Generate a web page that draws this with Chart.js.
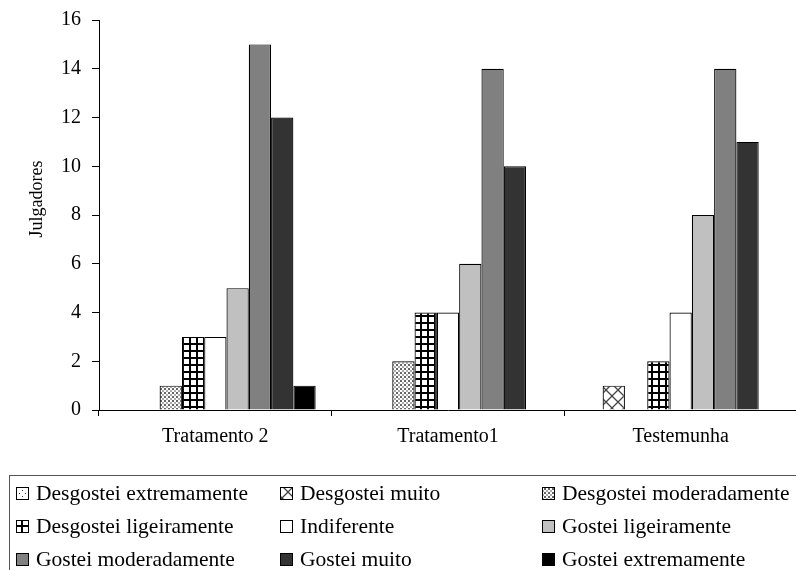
<!DOCTYPE html>
<html>
<head>
<meta charset="utf-8">
<script src="https://cdn.jsdelivr.net/npm/chart.js@4"></script>
<style>
  html, body { margin: 0; padding: 0; background: #fff; overflow: hidden; }
  #wrap { width: 800px; height: 570px; }
</style>
</head>
<body>
<div id="wrap"><canvas id="chart" width="800" height="570"></canvas></div>
<script>
const CATEGORIES = ['Tratamento 2', 'Tratamento1', 'Testemunha'];

const SERIES_NAMES = [
  'Desgostei extremamente', 'Desgostei muito', 'Desgostei moderadamente',
  'Desgostei ligeiramente', 'Indiferente', 'Gostei ligeiramente',
  'Gostei moderadamente', 'Gostei muito', 'Gostei extremamente',
];

const DESGOSTEI_EXTREMAMENTE  = [0, 0, 0];
const DESGOSTEI_MUITO         = [0, 0, 1];
const DESGOSTEI_MODERADAMENTE = [1, 2, 0];
const DESGOSTEI_LIGEIRAMENTE  = [3, 4, 2];
const INDIFERENTE             = [3, 4, 4];
const GOSTEI_LIGEIRAMENTE     = [5, 6, 8];
const GOSTEI_MODERADAMENTE    = [15, 14, 14];
const GOSTEI_MUITO            = [12, 10, 11];
const GOSTEI_EXTREMAMENTE     = [1, 0, 0];

const Y_TICKS = [0, 2, 4, 6, 8, 10, 12, 14, 16];
const Y_TITLE = 'Julgadores';

const SERIF = '"Liberation Serif", "Times New Roman", serif';

// small tiles turned into canvas patterns
function makePattern(size, draw) {
  const c = document.createElement('canvas');
  c.width = size; c.height = size;
  const g = c.getContext('2d');
  g.fillStyle = '#fff';
  g.fillRect(0, 0, size, size);
  draw(g);
  return g.createPattern(c, 'repeat');
}

const ctx = document.getElementById('chart').getContext('2d');

const sparseDots = makePattern(6, g => {
  g.fillStyle = '#333';
  g.fillRect(1, 1, 1, 1);
  g.fillRect(4, 4, 1, 1);
});
const crossHatch = makePattern(12, g => {
  g.strokeStyle = '#444';
  g.lineWidth = 1.3;
  g.beginPath();
  g.moveTo(0, 0); g.lineTo(12, 12);
  g.moveTo(12, 0); g.lineTo(0, 12);
  g.stroke();
});
const denseDots = makePattern(4, g => {
  g.fillStyle = '#666';
  g.fillRect(0, 0, 2, 2);
  g.fillStyle = '#aaa';
  g.fillRect(2, 2, 2, 2);
});
const gridLines = makePattern(7, g => {
  g.fillStyle = '#000';
  g.fillRect(0, 0, 7, 2);
  g.fillRect(0, 0, 2, 7);
});

const FILLS = [sparseDots, crossHatch, denseDots, gridLines,
  '#ffffff', '#c0c0c0', '#808080', '#333333', '#000000'];

const SERIES_VALUES = [
  DESGOSTEI_EXTREMAMENTE, DESGOSTEI_MUITO, DESGOSTEI_MODERADAMENTE,
  DESGOSTEI_LIGEIRAMENTE, INDIFERENTE, GOSTEI_LIGEIRAMENTE,
  GOSTEI_MODERADAMENTE, GOSTEI_MUITO, GOSTEI_EXTREMAMENTE,
];

// y title placed a bit above the axis middle, like the original
const yTitle = {
  id: 'yTitle',
  afterDraw(chart) {
    const c = chart.ctx;
    c.save();
    c.translate(37, 199);
    c.rotate(-Math.PI / 2);
    c.font = '18px ' + SERIF;
    c.fillStyle = '#000';
    c.textAlign = 'center';
    c.textBaseline = 'middle';
    c.fillText(Y_TITLE, 0, 0);
    c.restore();
  },
};

// legend box below the plot, three aligned columns
const boxLegend = {
  id: 'boxLegend',
  afterDraw(chart) {
    const c = chart.ctx;
    c.save();
    c.strokeStyle = '#555';
    c.lineWidth = 1;
    c.strokeRect(9.5, 475.5, 820, 120);
    const cols = [16, 280, 542];
    const rows = [500, 533, 566];
    c.font = '21.5px ' + SERIF;
    c.textBaseline = 'alphabetic';
    chart.data.datasets.forEach((ds, i) => {
      const x = cols[i % 3], y = rows[Math.floor(i / 3)];
      c.fillStyle = ds.backgroundColor;
      c.fillRect(x, y - 13, 13, 13);
      c.strokeStyle = '#000';
      c.strokeRect(x + 0.5, y - 12.5, 12, 12);
      c.fillStyle = '#000';
      c.fillText(ds.label, x + 20, y);
    });
    c.restore();
  },
};

new Chart(ctx, {
  type: 'bar',
  data: {
    labels: CATEGORIES,
    datasets: SERIES_NAMES.map((name, i) => ({
      label:           name,
      data:            SERIES_VALUES[i],
      backgroundColor: FILLS[i],
      borderColor:     '#000',
      borderWidth:     1.2,
      barPercentage:      1,
      categoryPercentage: 0.8625,
    })),
  },
  options: {
    responsive: false,
    animation:  false,
    layout: { padding: { top: 20, right: 3, left: 0, bottom: 0 } },
    plugins: {
      legend:  { display: false },
      tooltip: { enabled: false },
    },
    scales: {
      x: {
        afterFit: s => { s.height = 160; },
        border: { color: '#000', width: 1 },
        grid: {
          offset: true,
          drawOnChartArea: false,
          drawTicks: true,
          tickLength: 6,
          color: '#000',
        },
        ticks: { color: '#000', font: { family: SERIF, size: 20 }, padding: 9 },
      },
      y: {
        min: 0,
        max: 16,
        afterFit: s => { s.width = 99; s.paddingTop = 0; s.paddingBottom = 0; },
        afterBuildTicks: s => { s.ticks = Y_TICKS.map(v => ({ value: v })); },
        border: { color: '#000', width: 1 },
        grid: {
          drawOnChartArea: false,
          drawTicks: true,
          tickLength: 7,
          color: '#000',
        },
        ticks: { color: '#000', font: { family: SERIF, size: 20 }, padding: 11 },
      },
    },
  },
  plugins: [yTitle, boxLegend],
});
</script>
</body>
</html>
